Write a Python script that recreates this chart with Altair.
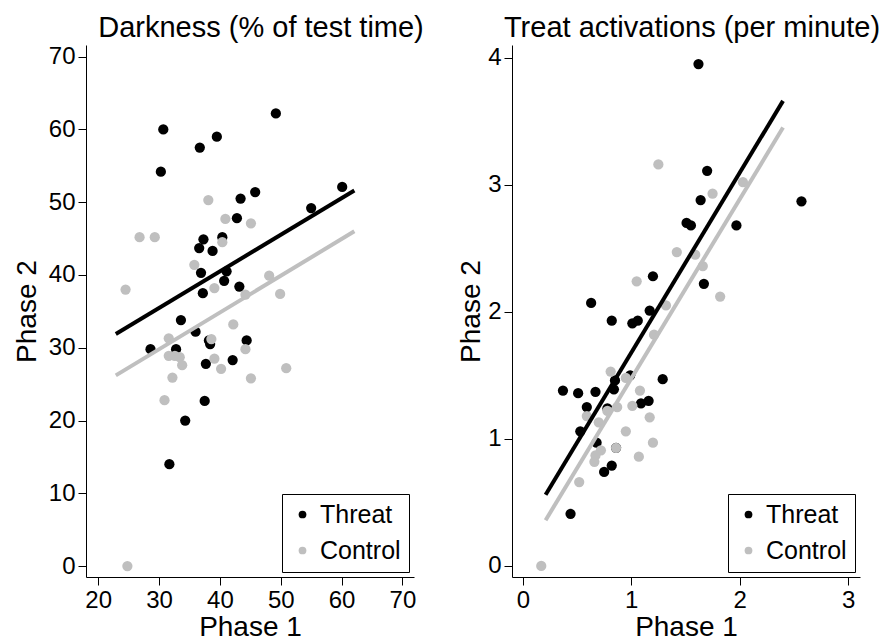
import altair as alt
import pandas as pd

FONT = "Liberation Sans"
BLACK = "#000000"
GRAY = "#bfbfbf"
GROUPS = ["Threat", "Control"]

# ---------------- Darkness (% of test time) ----------------
dark_threat_x = [30.7, 36.7, 39.5, 30.3, 49.2, 43.4, 45.8, 42.8, 37.3, 40.4, 36.6,
                 38.8, 36.9, 41.1, 40.7, 43.2, 37.2, 33.6, 36.0, 38.2, 38.4, 28.6,
                 32.8, 44.4, 37.7, 42.1, 37.5, 34.3, 31.7, 55.0, 60.1]
dark_threat_y = [60.0, 57.5, 59.0, 54.2, 62.2, 50.5, 51.4, 47.8, 44.9, 45.2, 43.7,
                 43.3, 40.3, 40.5, 39.2, 38.4, 37.5, 33.8, 32.2, 31.0, 30.5, 29.8,
                 29.8, 31.0, 27.8, 28.3, 22.7, 20.0, 14.0, 49.2, 52.1]
dark_control_x = [38.1, 40.9, 45.1, 26.8, 29.3, 40.4, 35.8, 24.5, 39.1, 48.1, 49.9,
                  44.2, 42.2, 31.6, 38.6, 44.2, 31.6, 32.6, 33.4, 33.8, 39.1, 40.2,
                  32.2, 45.1, 30.9, 50.9, 24.8]
dark_control_y = [50.3, 47.7, 47.1, 45.2, 45.2, 44.5, 41.4, 38.0, 38.2, 39.9, 37.4,
                  37.3, 33.2, 31.3, 31.2, 29.8, 28.9, 28.9, 28.7, 27.6, 28.5, 27.1,
                  25.9, 25.8, 22.8, 27.2, 0.0]
dark_fit_x = [22.9, 62.1]
dark_fit_threat_y = [31.9, 51.6]
dark_fit_control_y = [26.2, 46.0]

# ---------------- Treat activations (per minute) ----------------
treat_threat_x = [1.62, 1.70, 1.64, 2.57, 1.51, 1.55, 1.97, 1.20, 1.67, 0.63, 1.17,
                  0.82, 1.01, 1.06, 1.29, 0.37, 0.51, 0.67, 0.85, 0.84, 0.99, 0.59,
                  0.78, 1.09, 1.16, 0.53, 0.68, 0.86, 0.82, 0.75, 0.44]
treat_threat_y = [3.95, 3.11, 2.88, 2.87, 2.70, 2.68, 2.68, 2.28, 2.22, 2.07, 2.01,
                  1.93, 1.91, 1.93, 1.47, 1.38, 1.36, 1.37, 1.46, 1.39, 1.50, 1.25,
                  1.24, 1.28, 1.30, 1.06, 0.97, 0.93, 0.79, 0.74, 0.41]
treat_control_x = [1.25, 1.75, 2.03, 1.42, 1.59, 1.66, 1.05, 1.82, 1.32, 1.21, 0.81,
                   0.95, 1.08, 1.01, 0.87, 0.78, 1.17, 0.59, 0.70, 0.95, 1.20, 0.72,
                   0.86, 0.67, 0.66, 1.07, 0.52, 0.17]
treat_control_y = [3.16, 2.93, 3.02, 2.47, 2.45, 2.36, 2.24, 2.12, 2.05, 1.82, 1.53,
                   1.48, 1.38, 1.26, 1.25, 1.22, 1.17, 1.18, 1.13, 1.06, 0.97, 0.91,
                   0.93, 0.87, 0.82, 0.86, 0.66, 0.0]
treat_fit_x = [0.21, 2.40]
treat_fit_threat_y = [0.56, 3.66]
treat_fit_control_y = [0.36, 3.45]


def panel(title, tx, ty, cx, cy, fx, fty, fcy, xdom, ydom, xticks, yticks,
          width, ytitle_pad, title_dx):
    n_t, n_c = len(tx), len(cx)
    pts = pd.DataFrame({
        "x": tx + cx,
        "y": ty + cy,
        "group": ["Threat"] * n_t + ["Control"] * n_c,
        "k": list(range(n_t + n_c)),
    })
    xenc = alt.X("x:Q", scale=alt.Scale(domain=xdom, nice=False, zero=False),
                 axis=alt.Axis(values=xticks, title="Phase 1", format="d",
                               titlePadding=1))
    yenc = alt.Y("y:Q", scale=alt.Scale(domain=ydom, nice=False, zero=False),
                 axis=alt.Axis(values=yticks, title="Phase 2", format="d",
                               titlePadding=ytitle_pad))
    points = alt.Chart(pts).mark_circle(size=105, opacity=1).encode(
        x=xenc, y=yenc,
        color=alt.Color("group:N",
                        scale=alt.Scale(domain=GROUPS, range=[BLACK, GRAY]),
                        legend=alt.Legend(orient="bottom-right", title=None,
                                          offset=5, strokeColor="black",
                                          fillColor="white", padding=8,
                                          labelFont=FONT, labelFontSize=25,
                                          labelColor="black", labelOffset=5,
                                          symbolType="circle", symbolSize=60,
                                          symbolStrokeWidth=0, rowPadding=10,
                                          labelLimit=0)),
        order=alt.Order("k:Q"),
    )
    fit_t = alt.Chart(pd.DataFrame({"x": fx, "y": fty})).mark_line(
        color=BLACK, strokeWidth=4).encode(x="x:Q", y="y:Q")
    fit_c = alt.Chart(pd.DataFrame({"x": fx, "y": fcy})).mark_line(
        color=GRAY, strokeWidth=4).encode(x="x:Q", y="y:Q")
    return alt.layer(points, fit_t, fit_c).properties(
        width=width, height=532,
        title=alt.TitleParams(title, font=FONT, fontSize=29, fontWeight="normal",
                              color="black", anchor="middle", offset=2,
                              dx=title_dx),
    )


left = panel("Darkness (% of test time)", dark_threat_x, dark_threat_y,
             dark_control_x, dark_control_y, dark_fit_x, dark_fit_threat_y,
             dark_fit_control_y, [18.0, 71.9], [-1.5, 71.6],
             [20, 30, 40, 50, 60, 70], [0, 10, 20, 30, 40, 50, 60, 70],
             328, 7, 11)
right = panel("Treat activations (per minute)", treat_threat_x, treat_threat_y,
              treat_control_x, treat_control_y, treat_fit_x, treat_fit_threat_y,
              treat_fit_control_y, [-0.10, 3.11], [-0.087, 4.10],
              [0, 1, 2, 3], [0, 1, 2, 3, 4], 348, 2, 6)

chart = alt.hconcat(left, right, spacing=33).resolve_scale(
    color="independent"
).properties(
    padding={"left": 5, "top": 5, "right": 0, "bottom": 0},
    background="white",
).configure_view(stroke=None).configure_axis(
    grid=False, labelFont=FONT, titleFont=FONT, labelFontSize=24,
    titleFontSize=28, titleFontWeight="normal", labelColor="black",
    titleColor="black", domainColor="black", tickColor="black",
    tickSize=8, labelPadding=3, domainWidth=1, tickWidth=1,
)

chart.save("out.html", embed_options={"renderer": "svg", "actions": False})
